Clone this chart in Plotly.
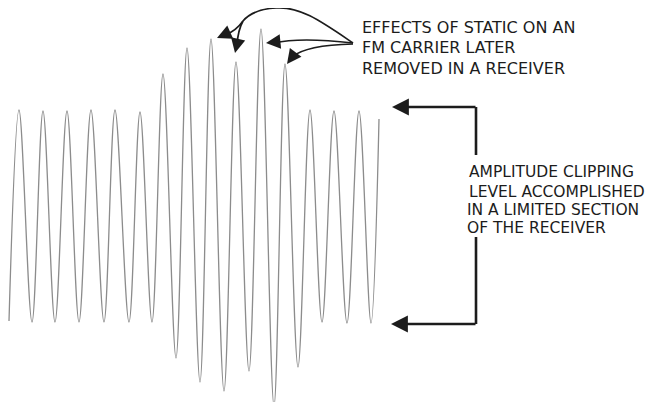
import plotly.graph_objects as go

# Onda da portadora: posições horizontais (px) e amplitudes dos extremos
# (linha de base em y = 216 px da imagem)
t_extremos = [9, 19, 32, 43, 55, 67, 79, 91, 104, 115, 129, 140, 152,
              163, 176, 187, 200, 211, 224, 236, 249, 261, 274, 285, 298,
              310, 322, 334, 347, 359, 371, 379]
amp_extremos = [-105, 106, -106, 105, -106, 105, -106, 106, -106, 106, -106, 104, -106,
                142, -142, 168, -166, 177, -175, 154, -155, 187, -190, 152, -151,
                106, -106, 105, -107, 105, -107, 97]

texto_estatica = ["EFFECTS OF STATIC ON AN", "FM CARRIER LATER", "REMOVED IN A RECEIVER"]
texto_corte = ["AMPLITUDE CLIPPING", "LEVEL ACCOMPLISHED", "IN A LIMITED SECTION", "OF THE RECEIVER"]

BASE = 216
MARGEM_PAGINA = 8  # margem padrão do <body>
COR_TINTA = "#1c1c1c"
FONTE = "DejaVu Sans"


def Y(py):
    # converte posição vertical da imagem para a escala de amplitude
    return BASE - py


def caminho(pontos):
    # pontos: lista de comandos (letra, [x, y, ...]) em px da imagem
    partes = []
    for cmd, coords in pontos:
        xy = []
        for i in range(0, len(coords), 2):
            xy.append(f"{coords[i]},{Y(coords[i + 1])}")
        partes.append(cmd + " " + " ".join(xy))
    return " ".join(partes)


fig = go.Figure()
fig.add_trace(go.Scatter(
    x=t_extremos, y=amp_extremos,
    mode="lines",
    line=dict(color="#8c8c8c", width=1.3, shape="spline", smoothing=1),
    hoverinfo="skip",
))

shapes = []
linha_seta = dict(color=COR_TINTA, width=1.7)

# arco superior e ramificações
shapes.append(dict(type="path", xref="x", yref="y", line=linha_seta,
                   path=caminho([("M", [353, 43]), ("C", [322, 22, 300, 6, 276, 8]),
                                 ("C", [258, 9, 249, 14, 243, 21])])))
shapes.append(dict(type="path", xref="x", yref="y", line=linha_seta,
                   path=caminho([("M", [243, 21]), ("Q", [236, 31, 225, 35])])))
shapes.append(dict(type="path", xref="x", yref="y", line=linha_seta,
                   path=caminho([("M", [243, 21]), ("Q", [238, 30, 237, 45])])))
# seta do meio
shapes.append(dict(type="path", xref="x", yref="y", line=linha_seta,
                   path=caminho([("M", [353, 43]), ("Q", [300, 37, 274, 43])])))
# seta de baixo
shapes.append(dict(type="path", xref="x", yref="y", line=linha_seta,
                   path=caminho([("M", [353, 44]), ("Q", [306, 45, 292, 57])])))

# colchete do nível de corte
linha_colchete = dict(color=COR_TINTA, width=2.6)
shapes.append(dict(type="line", xref="x", yref="y", x0=476, x1=476, y0=Y(155), y1=Y(107),
                   line=linha_colchete))
shapes.append(dict(type="line", xref="x", yref="y", x0=476, x1=476, y0=Y(237), y1=Y(324),
                   line=linha_colchete))

annotations = []


def seta(x, y, ax, ay, largura=1.7, tamanho=1.7):
    annotations.append(dict(
        x=x, y=Y(y), xref="x", yref="y", ax=ax, ay=ay,
        text="", showarrow=True, arrowhead=2, arrowsize=tamanho,
        arrowwidth=largura, arrowcolor=COR_TINTA,
    ))


seta(217, 38, 9, -4)
seta(235, 53, 2, -9)
seta(266, 43, 10, -1)
seta(287, 64, 6, -8)
seta(392, 107, 85, 0, largura=2.6, tamanho=1.3)
seta(391, 324, 86, 0, largura=2.6, tamanho=1.3)

for texto, py in zip(texto_estatica, [27, 47, 68]):
    annotations.append(dict(x=360, y=Y(py), xref="x", yref="y", text=texto,
                            showarrow=False, xanchor="left", yanchor="middle",
                            font=dict(family=FONTE, size=16, color=COR_TINTA)))

for texto, px_, py in zip(texto_corte, [467, 467, 465, 465], [172, 192, 210, 228]):
    annotations.append(dict(x=px_, y=Y(py), xref="x", yref="y", text=texto,
                            showarrow=False, xanchor="left", yanchor="middle",
                            font=dict(family=FONTE, size=15.5, color=COR_TINTA)))

fig.update_layout(
    width=655 - MARGEM_PAGINA, height=402 - MARGEM_PAGINA,
    margin=dict(l=0, r=0, t=0, b=0),
    paper_bgcolor="white", plot_bgcolor="white",
    showlegend=False,
    xaxis=dict(range=[MARGEM_PAGINA, 655], visible=False, fixedrange=True),
    yaxis=dict(range=[BASE - 402, BASE - MARGEM_PAGINA], visible=False, fixedrange=True),
    shapes=shapes,
    annotations=annotations,
)

fig.write_html("out.html")
